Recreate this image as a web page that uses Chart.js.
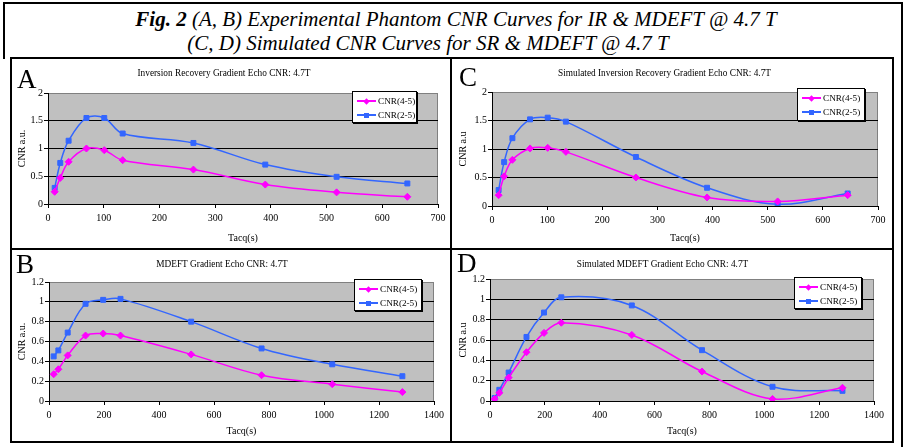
<!DOCTYPE html>
<html>
<head>
<meta charset="utf-8">
<script src="https://cdn.jsdelivr.net/npm/chart.js@4.4.0/dist/chart.umd.min.js"></script>
<style>
  body { margin: 0; background: #fff; width: 906px; height: 447px; position: relative; overflow: hidden;
         font-family: 'Liberation Serif', 'Times New Roman', serif; }
  .bar { position: absolute; background: #000; }
  .fig-title { position: absolute; width: 860px; text-align: center; font-style: italic; font-size: 21px;
               line-height: 22px; white-space: nowrap; }
  .letter { position: absolute; font-size: 27px; line-height: 27px; }
  canvas { position: absolute; }
  .legend { position: absolute; background: #fff; border: 1px solid #000; box-shadow: 1px 1px 0 #000;
            box-sizing: border-box; font-size: 9.2px; padding-top: 2px; white-space: nowrap; }
  .legend .row { display: flex; align-items: center; height: 14px; }
  .legend .swatch { position: relative; width: 19px; height: 10px; margin: 0 2px 0 4px; flex: none; }
  .legend .swatch i { position: absolute; left: 0; right: 0; top: 4px; height: 1.5px; }
  .legend .swatch b { position: absolute; left: 7px; top: 2.5px; width: 5px; height: 5px; }
  .legend .swatch b.diamond { transform: rotate(45deg) scale(0.9); }
</style>
</head>
<body>
<div class="fig-title" style="left:26px; top:8px;"><b>Fig. 2</b> (A, B) Experimental Phantom CNR Curves for IR &amp; MDEFT @ 4.7 T</div>
<div class="fig-title" style="left:-2px; top:32px;">(C, D) Simulated CNR Curves for SR &amp; MDEFT @ 4.7 T</div>

<script>
// acquisition times (s)
const tacqIR = [12, 22, 37, 69, 101, 134, 261, 390, 518, 645];
const tacqMDEFT = [17, 34, 68, 133, 197, 260, 517, 773, 1030, 1285];

// A: experimental IR
const irExp45 = [0.22, 0.47, 0.76, 1.00, 0.97, 0.79, 0.62, 0.35, 0.21, 0.13];
const irExp25 = [0.29, 0.74, 1.14, 1.55, 1.55, 1.27, 1.10, 0.71, 0.49, 0.37];
// C: simulated IR
const irSim45 = [0.19, 0.52, 0.81, 1.01, 1.02, 0.95, 0.50, 0.15, 0.08, 0.19];
const irSim25 = [0.28, 0.77, 1.19, 1.52, 1.55, 1.48, 0.86, 0.32, 0.03, 0.22];
// B: experimental MDEFT
const mdExp45 = [0.27, 0.32, 0.46, 0.66, 0.68, 0.66, 0.47, 0.26, 0.17, 0.09];
const mdExp25 = [0.45, 0.51, 0.69, 0.98, 1.02, 1.03, 0.80, 0.53, 0.37, 0.25];
// D: simulated MDEFT
const mdSim45 = [0.02, 0.08, 0.23, 0.48, 0.67, 0.77, 0.65, 0.29, 0.02, 0.13];
const mdSim25 = [0.03, 0.11, 0.28, 0.63, 0.87, 1.02, 0.94, 0.50, 0.14, 0.10];

const seriesNames = ['CNR(4-5)', 'CNR(2-5)'];
const FONT = "'Liberation Serif', 'Times New Roman', serif";
const MAGENTA = '#ff00ff';
const BLUE = '#3366ff';

// layout: panel box, plot area, legend box (page pixels)
const panels = [
  { letter: 'A', letterPos: [17, 66], box: [10, 58, 451, 249], plot: [48, 93, 438, 204], legendBox: [352, 91, 417, 123],
    title: 'Inversion Recovery Gradient Echo CNR: 4.7T', yTitle: 'CNR a.u.',
    x: tacqIR, s45: irExp45, s25: irExp25, xMax: 700, xStep: 100, yMax: 2, yStep: 0.5 },
  { letter: 'C', letterPos: [459, 64], box: [451, 58, 893, 249], plot: [492, 92, 878, 206], legendBox: [797, 88, 865, 121],
    title: 'Simulated Inversion Recovery Gradient Echo CNR: 4.7T', yTitle: 'CNR a.u',
    x: tacqIR, s45: irSim45, s25: irSim25, xMax: 700, xStep: 100, yMax: 2, yStep: 0.5 },
  { letter: 'B', letterPos: [16, 251], box: [10, 249, 451, 442], plot: [49, 282, 434, 401], legendBox: [354, 279, 422, 311],
    title: 'MDEFT Gradient Echo CNR: 4.7T', yTitle: 'CNR a.u.',
    x: tacqMDEFT, s45: mdExp45, s25: mdExp25, xMax: 1400, xStep: 200, yMax: 1.2, yStep: 0.2 },
  { letter: 'D', letterPos: [457, 250], box: [451, 249, 893, 442], plot: [490, 279, 874, 401], legendBox: [794, 277, 862, 309],
    title: 'Simulated MDEFT Gradient Echo CNR: 4.7T', yTitle: 'CNR a.u',
    x: tacqMDEFT, s45: mdSim45, s25: mdSim25, xMax: 1400, xStep: 200, yMax: 1.2, yStep: 0.2 }
];

const plotBackground = {
  id: 'plotBackground',
  beforeDraw(chart) {
    const { ctx, chartArea: a } = chart;
    ctx.save();
    ctx.fillStyle = '#c0c0c0';
    ctx.fillRect(a.left, a.top, a.right - a.left, a.bottom - a.top);
    ctx.strokeStyle = '#808080';
    ctx.lineWidth = 1;
    ctx.beginPath();
    ctx.moveTo(a.left, a.top + 0.5);
    ctx.lineTo(a.right - 0.5, a.top + 0.5);
    ctx.lineTo(a.right - 0.5, a.bottom);
    ctx.stroke();
    ctx.restore();
  }
};

function addBar(l, t, w, h) {
  const d = document.createElement('div');
  d.className = 'bar';
  d.style.cssText = `left:${l}px;top:${t}px;width:${w}px;height:${h}px`;
  document.body.appendChild(d);
}

function addLegend(p) {
  const [l, t, r, b] = p.legendBox;
  const lg = document.createElement('div');
  lg.className = 'legend';
  lg.style.cssText = `left:${l}px;top:${t}px;width:${r - l}px;height:${b - t}px`;
  [[MAGENTA, 'diamond'], [BLUE, 'square']].forEach(([c, shape], i) => {
    const row = document.createElement('div');
    row.className = 'row';
    row.innerHTML = `<span class="swatch"><i style="background:${c}"></i><b class="${shape}" style="background:${c}"></b></span><span>${seriesNames[i]}</span>`;
    lg.appendChild(row);
  });
  document.body.appendChild(lg);
}

panels.forEach(p => {
  const [bl, bt, br, bb] = p.box;
  const [pl, pt, pr, pb] = p.plot;
  const cv = document.createElement('canvas');
  cv.width = br - bl;
  cv.height = bb - bt;
  cv.style.left = bl + 'px';
  cv.style.top = bt + 'px';
  document.body.appendChild(cv);

  const titleLH = 11;
  const titleTop = 10;
  const titleBottom = (pt - bt) - titleTop - titleLH;

  new Chart(cv.getContext('2d'), {
    type: 'scatter',
    data: {
      datasets: [
        { label: seriesNames[0], data: p.x.map((v, i) => ({ x: v, y: p.s45[i] })),
          borderColor: MAGENTA, backgroundColor: MAGENTA, pointStyle: 'rectRot', pointRadius: 3.5,
          pointBorderWidth: 1, borderWidth: 1.5, showLine: true, tension: 0.35 },
        { label: seriesNames[1], data: p.x.map((v, i) => ({ x: v, y: p.s25[i] })),
          borderColor: BLUE, backgroundColor: BLUE, pointStyle: 'rect', pointRadius: 3.5,
          pointBorderWidth: 1, borderWidth: 1.5, showLine: true, tension: 0.35 }
      ]
    },
    options: {
      responsive: false,
      animation: false,
      layout: { padding: { left: 0, top: 0, bottom: 0, right: br - pr } },
      plugins: {
        legend: { display: false },
        tooltip: { enabled: false },
        title: { display: true, text: p.title, color: '#000',
                 font: { family: FONT, size: 9.3, weight: 'normal', lineHeight: titleLH / 9.3 },
                 padding: { top: titleTop, bottom: titleBottom } }
      },
      scales: {
        x: {
          type: 'linear', min: 0, max: p.xMax,
          ticks: { stepSize: p.xStep, color: '#000', font: { family: FONT, size: 10 }, padding: 4,
                   maxRotation: 0, autoSkip: false, callback: v => String(v) },
          grid: { drawOnChartArea: false, drawTicks: true, tickLength: 4, color: '#000' },
          border: { color: '#000', width: 1 },
          title: { display: true, text: 'Tacq(s)', color: '#000', font: { family: FONT, size: 10 },
                   padding: { top: 0, bottom: 5 } },
          afterFit(s) { s.height = bb - pb; }
        },
        y: {
          type: 'linear', min: 0, max: p.yMax,
          ticks: { stepSize: p.yStep, color: '#000', font: { family: FONT, size: 10 }, padding: 1,
                   callback: v => String(Math.round(v * 10) / 10) },
          grid: { color: c => (c.tick && c.tick.value >= p.yMax - 1e-9) ? '#808080' : '#000',
                  tickColor: '#000', tickLength: 4 },
          border: { color: '#000', width: 1 },
          title: { display: true, text: p.yTitle, color: '#000', font: { family: FONT, size: 10 },
                   padding: { top: 6, bottom: 0 } },
          afterFit(s) { s.width = pl - bl; }
        }
      }
    },
    plugins: [plotBackground]
  });

  addLegend(p);

  const lt = document.createElement('div');
  lt.className = 'letter';
  lt.style.left = p.letterPos[0] + 'px';
  lt.style.top = p.letterPos[1] + 'px';
  lt.textContent = p.letter;
  document.body.appendChild(lt);
});

// frame lines
addBar(3, 2, 900, 2);      // title box top
addBar(3, 2, 2, 57);       // title box left
addBar(901, 2, 2, 445);    // right edge
addBar(10, 57, 884, 2);    // panel grid top
addBar(10, 57, 2, 386);    // panel grid left
addBar(892, 57, 2, 386);   // panel grid right
addBar(10, 441, 884, 2);   // panel grid bottom
addBar(450, 57, 2, 386);   // vertical divider
addBar(10, 248, 884, 2);   // horizontal divider
</script>
</body>
</html>
